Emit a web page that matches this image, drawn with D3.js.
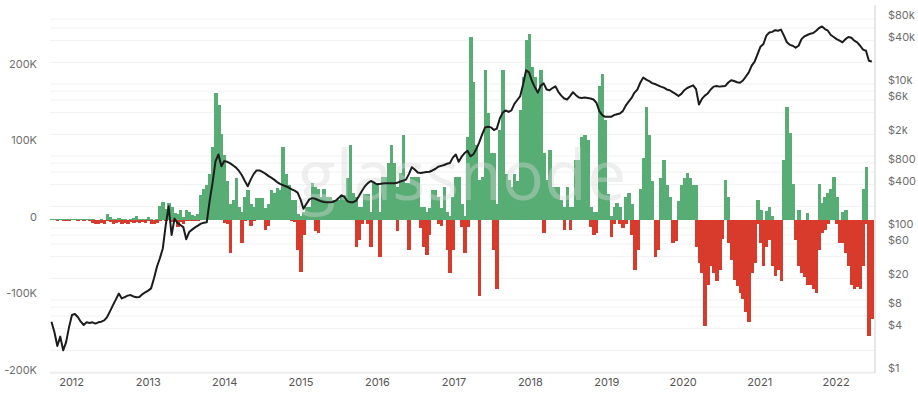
<!DOCTYPE html>
<html><head><meta charset="utf-8">
<script src="https://cdn.jsdelivr.net/npm/d3@7"></script>
<style>
html,body{margin:0;padding:0;background:#fff;}
svg{display:block;font-family:Inter,"Open Sans","DejaVu Sans",sans-serif;}
</style></head>
<body>
<svg id="chart" width="918" height="394"></svg>
<script>
// ---- data (14-day periods starting 2011-09-22), values in thousands ----
const periodStart = "2011-09-22";
const periodDays = 14;
const inflowK = [
.5,.5,.5,.5,.5,.5,.5,.5,.5,.5,
.5,.5,.5,.5,.5,0,0,.5,0,7,
3,1,1,2,1,1,0,1,2,5,
1,1,1,4,1,0,1,18,23,14,
22,16,9,8,13,4,13,10,6,5,
8,32,40,45,60,95,165,150,112,85,
50,20,26,55,17,10,30,39,20,17,
28,28,28,15,20,39,35,42,39,95,
60,45,26,26,8,5,10,17,17,48,
43,40,30,40,30,30,26,26,26,32,
32,55,97,35,30,17,17,34,34,10,
48,48,10,56,56,74,97,74,43,61,
110,48,48,56,56,56,17,17,10,15,
39,39,30,15,43,10,5,30,56,56,
20,5,108,238,180,97,52,56,195,139,
87,87,20,117,195,60,52,43,60,50,
143,186,234,243,200,186,165,195,87,52,
91,43,43,43,26,17,43,17,17,78,
78,108,110,104,17,10,10,174,190,130,
34,5,17,22,17,0,30,35,20,0,
0,40,80,147,110,50,0,0,55,78,
45,30,0,0,25,45,55,61,55,45,
45,0,0,0,0,0,0,0,0,0,
52,30,0,0,0,0,0,0,0,0,
0,26,13,0,12,17,5,0,0,0,
78,147,113,47,0,13,0,0,9,0,
0,0,47,22,30,35,40,56,30,0,
10,13,0,0,0,0,0,40,69,0,0];
const outflowK = [
-.5,-.5,-1,-.5,-2,-2,-1,-.5,-.5,-1,
-.5,-1,-.5,-1,-4,-5,-5,-4,-5,-2,
-3,-5,-4,-3,-5,-4,-6,-3,-4,-3,
-4,-3,-4,-2,-5,-5,-4,-2,0,-1,
0,-3,-2,-10,-3,-6,-2,-1,-1,-2,
-1,0,0,0,0,0,0,0,0,-4,
-6,-43,0,0,0,-30,-2,0,-8,-2,
0,0,0,-13,-8,0,0,0,0,0,
0,0,-2,-3,-40,-68,-20,0,0,0,
-15,-17,0,0,0,0,0,0,0,0,
0,0,0,0,-35,-26,-5,0,-5,-35,
0,0,-48,0,0,0,0,0,-15,0,
0,0,-39,0,0,0,-11,-35,-46,-20,
0,0,-5,-8,0,-40,-69,-40,0,0,
-10,-43,-10,0,0,0,-100,0,0,0,
0,-40,-91,0,0,0,0,0,0,0,
0,0,0,0,0,0,0,0,-17,0,
0,0,0,0,0,-13,0,-13,0,0,
0,0,0,0,-10,-20,-17,0,0,0,
0,-22,-5,0,-5,-11,-5,0,-20,-65,
-40,0,0,0,0,0,-48,-40,0,0,
0,0,-30,-28,0,0,0,0,0,0,
-35,-56,-70,-139,-85,-60,-70,-80,-65,-25,
0,-30,-52,-78,-87,-95,-104,-121,-134,-70,
-56,-5,-30,-61,-35,-26,-60,-74,-65,-80,
0,0,0,0,-26,-60,-70,-75,-85,-85,
-90,-95,-40,-17,-13,-5,0,0,-5,-30,
-30,-43,-61,-85,-91,-88,-91,-60,-5,-152,-130];
const priceUSD = [
5,3.6,2.3,3.1,2.0,2.6,4.2,6.2,6.4,5.8,
5,4.5,4.9,4.8,4.9,4.7,4.9,5.0,5.2,5.8,
7,8.5,10.2,12.3,10.5,11,11.5,11.7,11.2,10.9,
11,12,12.8,13.5,14.5,20,29,38,52,110,
200,80,135,118,110,103,70,88,95,102,
108,115,118,120,240,430,850,1050,720,850,
830,790,740,690,620,540,450,380,470,560,
630,630,600,570,530,500,470,435,410,395,
380,365,345,330,310,250,185,215,250,260,
255,245,235,230,228,228,230,240,260,285,
270,235,228,228,240,280,330,380,420,450,
430,405,410,415,420,420,420,420,425,440,
455,470,560,700,650,590,580,590,600,605,
630,660,710,730,750,780,800,950,1050,830,
980,1100,1180,990,1060,1250,1550,2000,2500,2550,
2500,2300,2400,3300,4000,4300,4100,4300,5300,6000,
6800,10000,15500,14500,11000,9000,7600,9500,10200,8400,
8200,8800,9300,7800,6900,6300,6100,6800,7700,7000,
6500,6400,6500,6400,6300,6100,5500,4200,3700,3500,
3500,3500,3700,3800,3900,4200,5000,5700,6400,7600,
8400,10500,12300,11500,11000,10300,10000,9600,9200,8900,
8400,8200,7700,7300,6800,7300,8200,8800,9200,9600,
8500,5200,6200,6900,7400,8400,9200,9400,9200,9300,
9400,10500,11300,11000,10600,10400,11200,12700,14500,18000,
20500,26000,33000,36000,47000,52000,53000,56000,55000,57000,
47000,38000,35000,34000,32000,34000,42000,46000,48000,50000,
51000,55000,60000,63000,58000,55000,48000,45000,42000,40000,
38000,42000,45000,44000,40000,38000,34000,30000,29000,21000,20500];
const leftTicksK = [200, 100, 0, -100, -200];
const rightTicksUSD = [1, 4, 8, 20, 60, 100, 400, 800, 2000, 6000, 10000, 40000, 80000];
const rightGridUSD = [1,2,4,6,8,10,20,40,60,80,100,200,400,600,800,1000,2000,4000,6000,8000,10000,20000,40000,60000,80000];
const yearTicks = ["2012","2013","2014","2015","2016","2017","2018","2019","2020","2021","2022"];

// ---- chart ----
const svg = d3.select("#chart");
const parse = d3.timeParse("%Y-%m-%d");
const t0 = parse(periodStart);
const n = inflowK.length;
const dates = d3.range(n + 1).map(i => d3.timeDay.offset(t0, i * periodDays));
const left = 50, right = 873.3, axisX = 875;

const x = d3.scaleTime().domain([dates[0], dates[n]]).range([left, right]);
const yL = d3.scaleLinear().domain([-200, 200]).range([373, 66.5]);
const yR = d3.scaleLog().domain([1, 80000]).range([372, 19]);

const green = "#58ad74", red = "#d83a2c";

// grid
svg.append("g").selectAll("line").data(rightGridUSD).join("line")
  .attr("x1", left).attr("x2", axisX)
  .attr("y1", d => yR(d)).attr("y2", d => yR(d))
  .attr("stroke", "#f1f1f1").attr("stroke-width", 1);

// bars
const barW = i => x(dates[i + 1]) - x(dates[i]) + 0.6;
const gBars = svg.append("g").attr("shape-rendering", "crispEdges");
gBars.append("g").selectAll("rect").data(inflowK).join("rect")
  .attr("x", (d, i) => x(dates[i])).attr("width", (d, i) => barW(i))
  .attr("y", d => yL(d)).attr("height", d => yL(0) - yL(d))
  .attr("fill", green);
gBars.append("g").selectAll("rect").data(outflowK).join("rect")
  .attr("x", (d, i) => x(dates[i])).attr("width", (d, i) => barW(i))
  .attr("y", yL(0)).attr("height", d => yL(d) - yL(0))
  .attr("fill", red);

// watermark
svg.append("text").attr("x", 462).attr("y", 200).attr("text-anchor", "middle")
  .attr("font-size", 70).attr("font-weight", 500)
  .attr("fill", "#d8d8d8").attr("opacity", 0.4)
  .attr("font-family", "'Open Sans', Inter, sans-serif")
  .text("glassnode");

// price line
const line = d3.line()
  .x((d, i) => x(d3.timeDay.offset(dates[i], periodDays / 2)))
  .y(d => yR(d)).curve(d3.curveLinear);
svg.append("path").datum(priceUSD).attr("d", line)
  .attr("fill", "none").attr("stroke", "#1c1c1c").attr("stroke-width", 2)
  .attr("stroke-linejoin", "round");

// axis frame lines
svg.append("line").attr("x1", axisX).attr("x2", axisX).attr("y1", 5).attr("y2", 373)
  .attr("stroke", "#cfcfcf");
svg.append("line").attr("x1", left).attr("x2", axisX).attr("y1", 373).attr("y2", 373)
  .attr("stroke", "#e6e6e6");

// left axis
const gl = svg.append("g").attr("transform", "translate(40,0)")
  .call(d3.axisLeft(yL).tickValues(leftTicksK).tickSize(0).tickPadding(3)
    .tickFormat(d => d === 0 ? "0" : d + "K"));
gl.select(".domain").remove();
gl.selectAll("text").attr("dy", "0.32em").attr("y", -3)
  .attr("fill", "#6e6e6e").attr("font-size", 11).attr("font-family", "Inter, 'Open Sans', sans-serif");

// right axis
const fmtUSD = d => d >= 1000 ? "$" + (d / 1000) + "k" : "$" + d;
const gr = svg.append("g").attr("transform", "translate(885,0)")
  .call(d3.axisRight(yR).tickValues(rightTicksUSD).tickSize(0).tickPadding(3).tickFormat(fmtUSD));
gr.select(".domain").remove();
gr.selectAll("text").attr("dy", "0.32em").attr("y", -4)
  .attr("fill", "#6e6e6e").attr("font-size", 11).attr("font-family", "Inter, 'Open Sans', sans-serif");

// bottom axis
const gb = svg.append("g").attr("transform", "translate(0,376)")
  .call(d3.axisBottom(x).tickValues(yearTicks.map(y => parse(y + "-01-01")))
    .tickSize(0).tickPadding(2).tickFormat(d3.timeFormat("%Y")));
gb.select(".domain").remove();
gb.selectAll("text").attr("fill", "#555").attr("font-size", 11)
  .attr("font-family", "Inter, 'Open Sans', sans-serif");
</script>
</body></html>
